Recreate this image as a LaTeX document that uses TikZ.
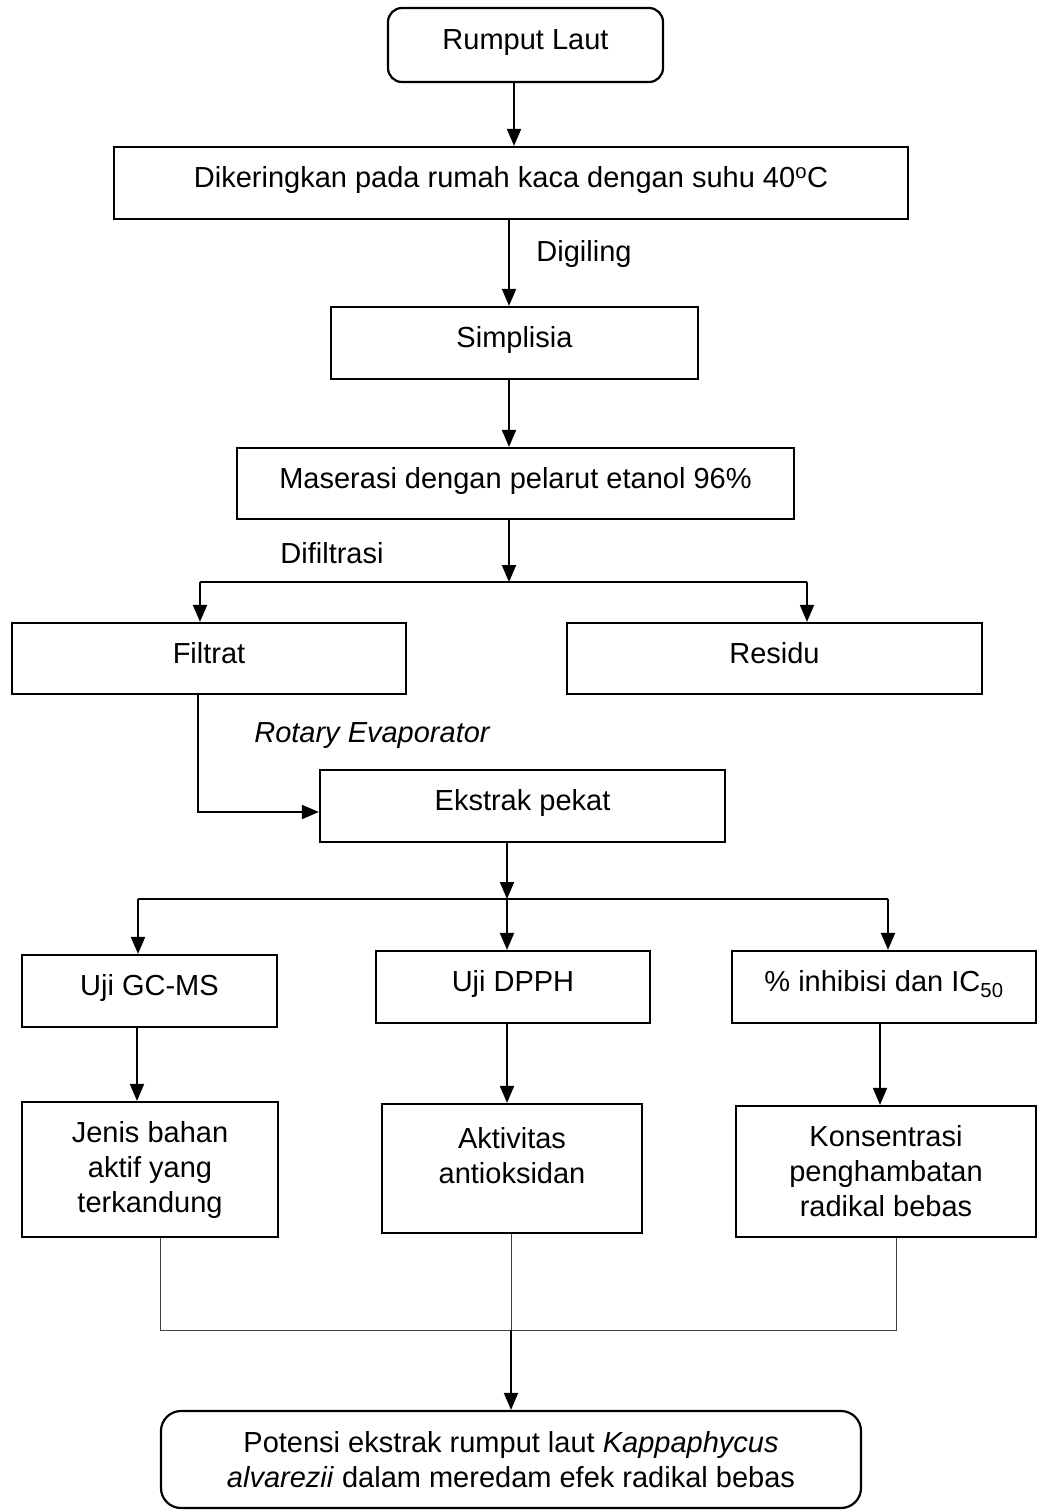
\documentclass[tikz,border=0pt]{standalone}
\usepackage{fontspec}
\setmainfont{Liberation Sans}
\usetikzlibrary{arrows.meta}
\begin{document}
\begin{tikzpicture}[x=1pt,y=-1pt,
  box/.style={draw, line width=2.2pt, inner sep=0pt, font=\fontsize{29}{35}\selectfont},
  oneline/.style={text height=20pt, text depth=11pt},
  multi/.style={align=center},
  rbox/.style={box, rounded corners=14pt},
  arr/.style={line width=1.9pt, -{Triangle[length=17pt,width=14pt]}},
  lbl/.style={font=\fontsize{29}{35}\selectfont, inner sep=0pt},
  splitline/.style={line width=1.4pt},
  thinline/.style={line width=1pt, draw=black!75},
]
\useasboundingbox (0,0) rectangle (1037,1510);

% boxes
\node[rbox,oneline,minimum width=275pt,minimum height=74pt] (rumput) at (525.5,45) {Rumput Laut};
\node[box,oneline,minimum width=794pt,minimum height=72pt] (dry) at (511,183) {Dikeringkan pada rumah kaca dengan suhu 40\textsuperscript{o}C};
\node[box,oneline,minimum width=367pt,minimum height=72pt] (simp) at (514.5,343) {Simplisia};
\node[box,oneline,minimum width=557pt,minimum height=71pt] (mas) at (515.5,483.5) {Maserasi dengan pelarut etanol 96\%};
\node[box,oneline,minimum width=394pt,minimum height=71pt] (filt) at (209,658.5) {Filtrat};
\node[box,oneline,minimum width=415pt,minimum height=71pt] (resid) at (774.5,658.5) {Residu};
\node[box,oneline,minimum width=405pt,minimum height=72pt] (ekst) at (522.5,806) {Ekstrak pekat};
\node[box,oneline,minimum width=255pt,minimum height=72pt] (gc) at (149.5,991) {Uji GC-MS};
\node[box,oneline,minimum width=274pt,minimum height=72pt] (dpph) at (513,987) {Uji DPPH};
\node[box,oneline,minimum width=304pt,minimum height=72pt] (inh) at (884,987) {\% inhibisi dan IC\textsubscript{50}};
\node[box,multi,minimum width=256pt,minimum height=135pt] (jenis) at (150,1169.5) {Jenis bahan\\aktif yang\\terkandung};
\node[box,minimum width=260pt,minimum height=129pt] (akt) at (512,1168.5) {\raisebox{10pt}[\height][\depth]{\begin{tabular}{@{}c@{}}Aktivitas\\antioksidan\end{tabular}}};
\node[box,multi,minimum width=300pt,minimum height=131pt] (kons) at (886,1171.5) {Konsentrasi\\penghambatan\\radikal bebas};
\node[rbox,multi,rounded corners=20pt,minimum width=700pt,minimum height=97pt] (final) at (511,1459.5) {Potensi ekstrak rumput laut \textit{Kappaphycus}\\\textit{alvarezii} dalam meredam efek radikal bebas};

% labels
\node[lbl] (digiling) at (584,254) {Digiling};
\node[lbl] (difil) at (332,553) {Difiltrasi};
\node[lbl,font=\fontsize{29}{35}\selectfont\itshape] (rotary) at (372,736) {Rotary Evaporator};

% coordinates
\coordinate (xa) at (514,0);
\coordinate (xb) at (509,0);
\coordinate (s1L) at (200,582);
\coordinate (s1R) at (807,582);
\coordinate (s1M) at (509,582);
\coordinate (fe) at (198,812);
\coordinate (s2L) at (138,899);
\coordinate (s2M) at (507,899);
\coordinate (s2R) at (888,899);
\coordinate (xg) at (137,0);
\coordinate (xd) at (507,0);
\coordinate (xi) at (880,0);
\coordinate (m1) at (160,1330);
\coordinate (m2) at (511,1330);
\coordinate (m3) at (896,1330);

% connectors
\draw[arr] (rumput.south -| xa) -- (dry.north -| xa);
\draw[arr] (dry.south -| xb) -- (simp.north -| xb);
\draw[arr] (simp.south -| xb) -- (mas.north -| xb);
\draw[arr] (mas.south -| s1M) -- (s1M);
\draw[splitline] (s1L) -- (s1R);
\draw[arr] (s1L) -- (filt.north -| s1L);
\draw[arr] (s1R) -- (resid.north -| s1R);
\draw[arr] (filt.south -| fe) -- (fe) -- (ekst.west |- fe);
\draw[arr] (ekst.south -| s2M) -- (s2M);
\draw[splitline] (s2L) -- (s2R);
\draw[arr] (s2L) -- (gc.north -| s2L);
\draw[arr] (s2M) -- (dpph.north -| s2M);
\draw[arr] (s2R) -- (inh.north -| s2R);
\draw[arr] (gc.south -| xg) -- (jenis.north -| xg);
\draw[arr] (dpph.south -| xd) -- (akt.north -| xd);
\draw[arr] (inh.south -| xi) -- (kons.north -| xi);
\draw[thinline] (jenis.south -| m1) -- (m1) -- (m3) -- (kons.south -| m3);
\draw[thinline] (akt.south -| m2) -- (m2);
\draw[arr] (m2) -- (final.north -| m2);
\end{tikzpicture}
\end{document}
